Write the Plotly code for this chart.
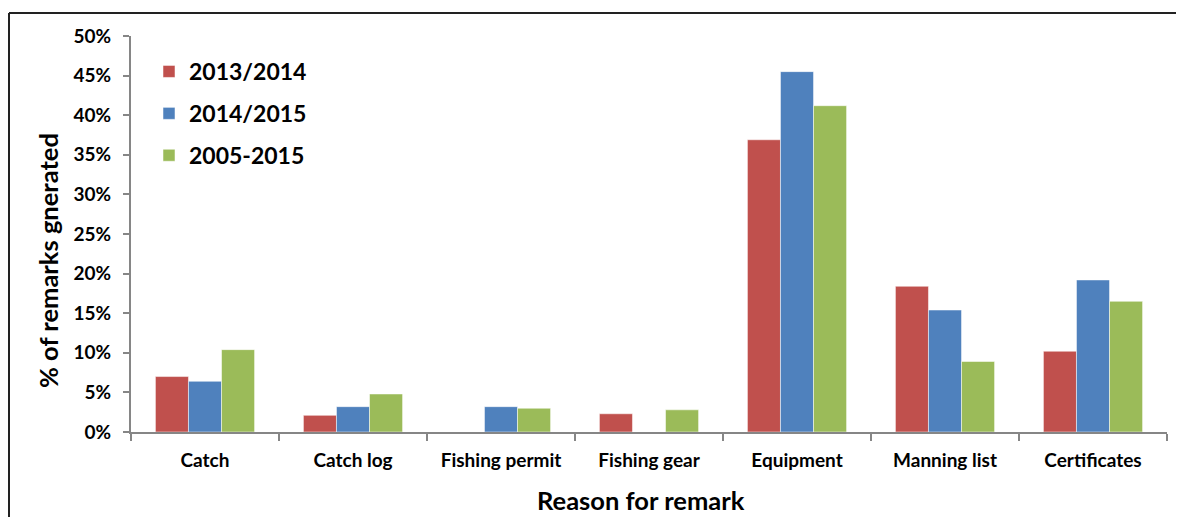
import plotly.graph_objects as go

categories = ["Catch", "Catch log", "Fishing permit", "Fishing gear", "Equipment", "Manning list", "Certificates"]
series_names = ["2013/2014", "2014/2015", "2005-2015"]
values_2013_2014 = [0.070, 0.021, 0.0, 0.023, 0.369, 0.184, 0.102]
values_2014_2015 = [0.064, 0.032, 0.032, 0.0, 0.455, 0.154, 0.192]
values_2005_2015 = [0.104, 0.048, 0.030, 0.028, 0.412, 0.089, 0.165]
colors = ["#C0504D", "#4F81BD", "#9BBB59"]
y_tick_vals = [0, 0.05, 0.10, 0.15, 0.20, 0.25, 0.30, 0.35, 0.40, 0.45, 0.50]
x_title = "Reason for remark"
y_title = "% of remarks gnerated"

FONT = "Lato"
fig = go.Figure()
for name, vals, col in zip(series_names, [values_2013_2014, values_2014_2015, values_2005_2015], colors):
    fig.add_trace(go.Bar(
        x=categories, y=vals, name=name, legendgroup=name,
        marker=dict(color=col, line=dict(color="rgba(255,255,255,0.5)", width=1)),
    ))

# page body adds an 8px offset, so the figure is laid out 8px smaller
W, H = 1176, 509
L, R, T, B = 123, 17, 28, 85
pw, ph = W - L - R, H - T - B

title_font = dict(family=FONT, size=25.5, color="black", weight="bold")

fig.update_layout(
    width=W, height=H,
    margin=dict(l=L, r=R, t=T, b=B),
    paper_bgcolor="white", plot_bgcolor="white",
    barmode="group", bargap=0.33, bargroupgap=0,
    font=dict(family=FONT, color="black"),
    showlegend=True,
    legend=dict(
        x=(141 - L) / pw, y=1 - (42 - T) / ph, xanchor="left", yanchor="top",
        font=dict(family=FONT, size=23, color="black", weight="bold"),
        tracegroupgap=9, itemwidth=30, bgcolor="rgba(0,0,0,0)",
    ),
    xaxis=dict(
        showline=True, linecolor="#868686", linewidth=2,
        ticks="outside", tickson="boundaries", ticklen=7, tickcolor="#868686", tickwidth=2,
        tickfont=dict(family=FONT, size=19, color="black", weight="bold"),
        ticklabelstandoff=10,
        showgrid=False,
    ),
    yaxis=dict(
        range=[0, 0.5], tickvals=y_tick_vals, tickformat=".0%",
        showline=True, linecolor="#868686", linewidth=2,
        ticks="outside", ticklen=6, tickcolor="#868686", tickwidth=2,
        tickfont=dict(family=FONT, size=19, color="black", weight="bold"),
        ticklabelstandoff=8,
        showgrid=False, zeroline=False,
    ),
)

# axis titles
fig.add_annotation(text=x_title, xref="paper", yref="paper",
                   x=(633 - L) / pw, y=-(492 - (T + ph)) / ph, xanchor="center", yanchor="middle",
                   showarrow=False, font=title_font)
fig.add_annotation(text=y_title, xref="paper", yref="paper", textangle=-90,
                   x=(40 - L) / pw, y=1 - (253 - T) / ph, xanchor="center", yanchor="middle",
                   showarrow=False, font=title_font)

# outer chart border (top and left edges visible)
x_left = (1 - L) / pw
y_top = 1 + (T - 5) / ph
fig.add_shape(type="line", xref="paper", yref="paper", x0=x_left, x1=1 + (R + 5) / pw, y0=y_top, y1=y_top,
              line=dict(color="#222222", width=2))
fig.add_shape(type="line", xref="paper", yref="paper", x0=x_left, x1=x_left, y0=y_top, y1=-(B + 5) / ph,
              line=dict(color="#222222", width=2))

fig.write_html("out.html")
